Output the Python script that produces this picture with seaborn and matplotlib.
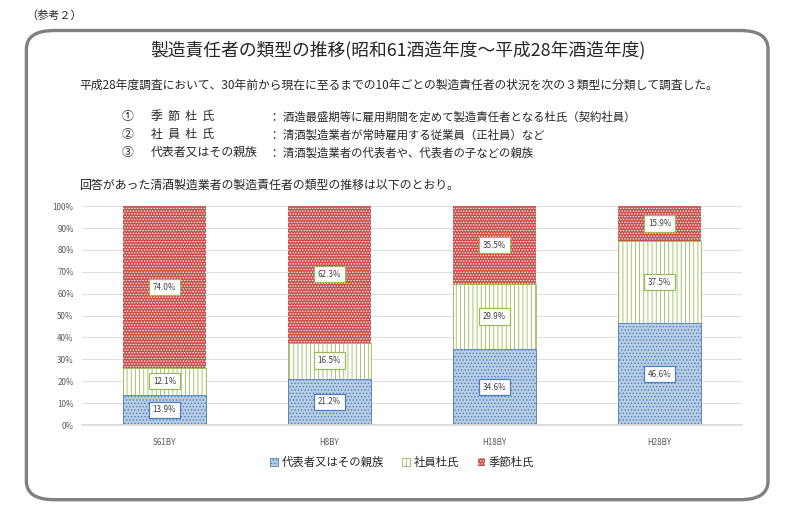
import matplotlib
matplotlib.use("Agg")
import matplotlib.pyplot as plt
from matplotlib.patches import FancyBboxPatch, Patch
import seaborn as sns
import pandas as pd

# data (percent)
years = ["S61BY", "H8BY", "H18BY", "H28BY"]
daihyo = [13.9, 21.2, 34.6, 46.6]   # 代表者又はその親族
shain = [12.1, 16.5, 29.9, 37.5]    # 社員杜氏
kisetsu = [74.0, 62.3, 35.5, 15.9]  # 季節杜氏
series_names = ["代表者又はその親族", "社員杜氏", "季節杜氏"]

sns.set_theme(style="white")
plt.rcParams['font.family'] = ['Noto Sans CJK JP', 'DejaVu Sans']
plt.rcParams['hatch.linewidth'] = 0.6

df = pd.DataFrame({"year": years, "a": daihyo, "b": shain, "c": kisetsu})
df["ab"] = df["a"] + df["b"]
df["abc"] = df["ab"] + df["c"]

fig = plt.figure(figsize=(8, 5.26), dpi=100)

# rounded frame
frame = FancyBboxPatch((0.033, 0.05), 0.927, 0.892, boxstyle="round,pad=0,rounding_size=0.035",
                       transform=fig.transFigure, fill=False, edgecolor="#808080", linewidth=2.4)
fig.patches.append(frame)

fig.text(0.033, 0.971, "（参考２）", fontsize=8, va="center", ha="left")
fig.text(0.498, 0.905, "製造責任者の類型の推移(昭和61酒造年度～平成28年酒造年度)",
         fontsize=12.8, ha="center", va="center")
fig.text(0.099, 0.838, "平成28年度調査において、30年前から現在に至るまでの10年ごとの製造責任者の状況を次の３類型に分類して調査した。",
         fontsize=8.5, ha="left", va="center")
items = [("①", "季  節  杜  氏", "酒造最盛期等に雇用期間を定めて製造責任者となる杜氏（契約社員）"),
         ("②", "社  員  杜  氏", "清酒製造業者が常時雇用する従業員（正社員）など"),
         ("③", "代表者又はその親族", "清酒製造業者の代表者や、代表者の子などの親族")]
for i, (n, k, d) in enumerate(items):
    y = 0.778 - i * 0.034
    fig.text(0.152, y, n, fontsize=8.6, ha="left", va="center")
    fig.text(0.189, y, k, fontsize=8.6, ha="left", va="center")
    fig.text(0.336, y, "： " + d, fontsize=8.2, ha="left", va="center")
fig.text(0.099, 0.648, "回答があった清酒製造業者の製造責任者の類型の推移は以下のとおり。",
         fontsize=8.6, ha="left", va="center")

ax = fig.add_axes([0.1025, 0.192, 0.825, 0.416])

styles = [
    ("abc", "#C84F4C", "white", 0.0, "......"),
    ("ab", "white", "#9BBB59", 0.6, "||||"),
    ("a", "#B8CCE4", "#4F81BD", 0.6, "....."),
]
for col, face, edge, lw, hatch in styles:
    sns.barplot(data=df, x="year", y=col, color=face, width=0.505, ax=ax,
                saturation=1, edgecolor=edge, linewidth=lw)
    for p in ax.patches[-len(years):]:
        p.set_facecolor(face)
        p.set_hatch(hatch)

# value labels
for i in range(len(years)):
    segs = [(daihyo[i] / 2, daihyo[i], "#4F81BD"),
            (daihyo[i] + shain[i] / 2, shain[i], "#9BBB59"),
            (daihyo[i] + shain[i] + kisetsu[i] / 2, kisetsu[i], "#9BBB59")]
    for yc, v, ec in segs:
        ax.text(i, yc, f"{v:.1f}%", ha="center", va="center", fontsize=5.8, color="#404040",
                bbox=dict(boxstyle="square,pad=0.45", facecolor="white", edgecolor=ec, linewidth=0.9))

ax.set_ylim(0, 100)
ax.set_xlim(-0.5, 3.5)
ax.set_yticks(range(0, 101, 10))
ax.set_yticklabels([f"{v}%" for v in range(0, 101, 10)])
ax.yaxis.grid(True, color="#E0E0E0", linewidth=0.8)
ax.set_axisbelow(True)
for s in ["top", "right", "left"]:
    ax.spines[s].set_visible(False)
ax.spines["bottom"].set_color("#D9D9D9")
ax.tick_params(axis="both", labelsize=5.8, colors="#595959", length=0, pad=6)
ax.tick_params(axis="x", pad=9)
ax.set_xlabel("")
ax.set_ylabel("")

handles = [Patch(facecolor="#B8CCE4", edgecolor="#4F81BD", hatch=".....", linewidth=0.6),
           Patch(facecolor="white", edgecolor="#9BBB59", hatch="||||", linewidth=0.6),
           Patch(facecolor="#C84F4C", edgecolor="white", hatch="......", linewidth=0.0)]
fig.legend(handles, series_names, loc="center", bbox_to_anchor=(0.503, 0.121), ncol=3,
           frameon=False, fontsize=8.2, handlelength=0.7, handleheight=0.7,
           handletextpad=0.3, columnspacing=1.6)

fig.savefig("out.png", dpi=100)
